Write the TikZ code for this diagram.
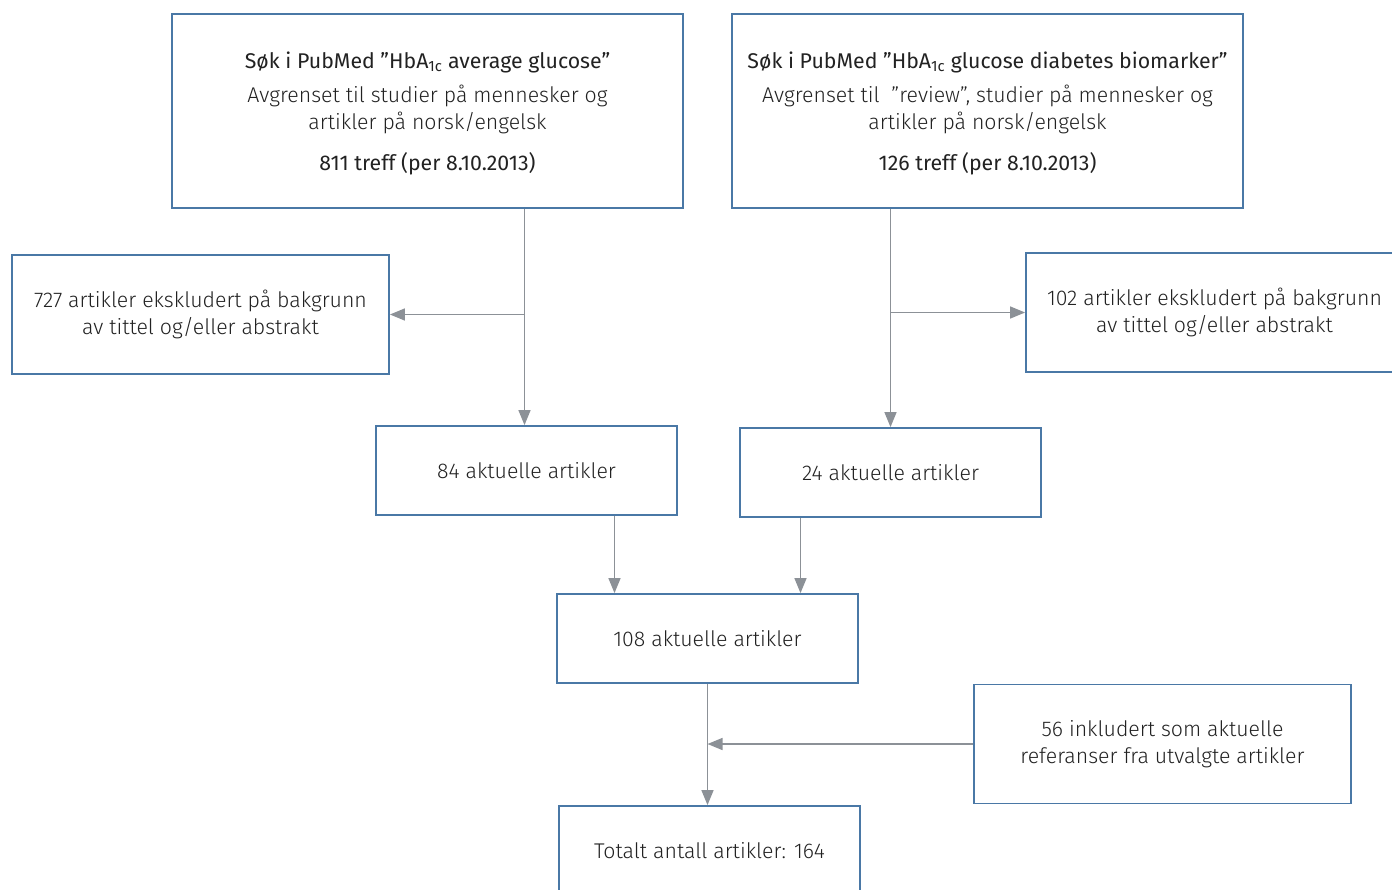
\documentclass[tikz,border=0pt]{standalone}
\usepackage{fontspec}
\setmainfont{Fira Sans Light}
\newfontfamily\headfont{Fira Sans}
\usepackage{tikz}
\usetikzlibrary{arrows.meta,positioning,calc}
\definecolor{boxblue}{HTML}{4A78A6}
\definecolor{arrowgray}{HTML}{8C9197}
\definecolor{ink}{HTML}{222222}

\begin{document}
\begin{tikzpicture}[x=1pt,y=-1pt,
  box/.style={draw=boxblue,line width=1.8pt,fill=white,inner sep=0pt,align=center,font=\fontsize{21.3}{27}\selectfont,text=ink},
  wide/.style={box,minimum width=511pt,minimum height=194pt},
  side/.style={box,minimum width=377pt,minimum height=119pt},
  small/.style={box,minimum width=301pt,minimum height=89pt},
  arr/.style={-{Triangle[length=15pt,width=12pt]},color=arrowgray,line width=1.4pt}]
  \useasboundingbox (0,0) rectangle (1392,889);
  % searches
  \node[wide] (top1) at (427.5,111) {\rule{0pt}{21pt}{\headfont Søk i PubMed ”HbA\textsubscript{1c} average glucose”}\\[7pt]
    Avgrenset til studier på mennesker og\\artikler på norsk/engelsk\\[14pt]
    {\headfont 811 treff (per 8.10.2013)}};
  \node[wide] (top2) at (987.5,111) {\rule{0pt}{21pt}{\headfont Søk i PubMed ”HbA\textsubscript{1c} glucose diabetes biomarker”}\\[7pt]
    Avgrenset til \ ”review”, studier på mennesker og\\artikler på norsk/engelsk\\[14pt]
    {\headfont 126 treff (per 8.10.2013)}};
  % excluded
  \node[side] (excl1) at (200.5,314.5) {727 artikler ekskludert på bakgrunn\\av tittel og/eller abstrakt};
  \node[side] (excl2) at (1214.5,312.5) {102 artikler ekskludert på bakgrunn\\av tittel og/eller abstrakt};
  % selected
  \node[small] (sel1) at (526.5,470.5) {84 aktuelle artikler};
  \node[small] (sel2) at (890.5,472.5) {24 aktuelle artikler};
  \node[small] (merged) at (707.5,638.5) {108 aktuelle artikler};
  \node[side] (refs) at (1162.5,744) {56 inkludert som aktuelle\\referanser fra utvalgte artikler};
  \node[small] (total) at (709.5,850.5) {Totalt antall artikler: 164};
  % connectors
  \draw[arr] ([xshift=-2pt]top1.south -| sel1.north) -- ([xshift=-2pt]sel1.north);
  \draw[arr] ([xshift=-2pt]excl1.east -| sel1.north) -- (excl1.east);
  \draw[arr] (top2.south -| sel2.north) -- (sel2.north);
  \draw[arr] (excl2.west -| sel2.north) -- (excl2.west);
  \draw[arr] ([xshift=88pt]sel1.south) -- ([xshift=88pt]sel1.south |- merged.north);
  \draw[arr] ([xshift=-90pt]sel2.south) -- ([xshift=-90pt]sel2.south |- merged.north);
  \draw[arr] (merged.south) -- (merged.south |- total.north);
  \draw[arr] (refs.west) -- (refs.west -| merged.south);
\end{tikzpicture}
\end{document}
